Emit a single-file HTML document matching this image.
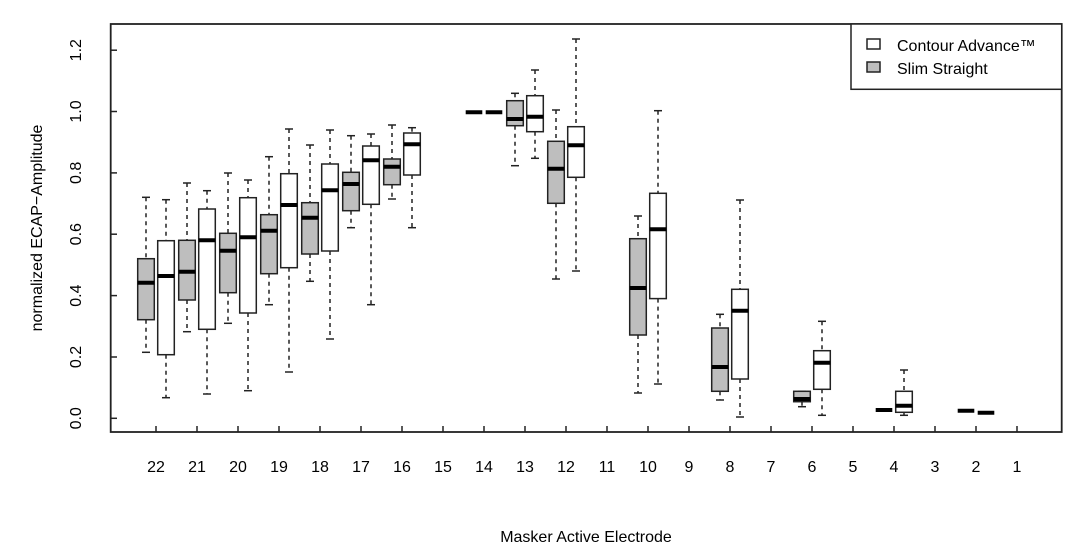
<!DOCTYPE html>
<html><head><meta charset="utf-8"><style>
body{margin:0;background:#fff}
svg text{font-family:"Liberation Sans",sans-serif;fill:#000}
</style></head><body>
<svg width="1086" height="543" viewBox="0 0 1086 543" xmlns="http://www.w3.org/2000/svg">
<g id="boxes" stroke="#222" stroke-width="1.5"></g>
<rect x="110.7" y="24" width="951" height="408" fill="none" stroke="#222" stroke-width="1.8"/>
<g stroke="#222" stroke-width="1.5">
<line x1="110.7" x2="117" y1="418.3" y2="418.3"/><line x1="110.7" x2="117" y1="357" y2="357"/>
<line x1="110.7" x2="117" y1="295.6" y2="295.6"/><line x1="110.7" x2="117" y1="234.2" y2="234.2"/>
<line x1="110.7" x2="117" y1="172.9" y2="172.9"/><line x1="110.7" x2="117" y1="111.5" y2="111.5"/>
<line x1="110.7" x2="117" y1="50.2" y2="50.2"/>
</g>
<g font-size="16" text-anchor="middle">
<text transform="translate(81,418.3) rotate(-90)">0.0</text>
<text transform="translate(81,357) rotate(-90)">0.2</text>
<text transform="translate(81,295.6) rotate(-90)">0.4</text>
<text transform="translate(81,234.2) rotate(-90)">0.6</text>
<text transform="translate(81,172.9) rotate(-90)">0.8</text>
<text transform="translate(81,111.5) rotate(-90)">1.0</text>
<text transform="translate(81,50.2) rotate(-90)">1.2</text>
<text transform="translate(42,228) rotate(-90)">normalized ECAP−Amplitude</text>
<text x="586" y="542">Masker Active Electrode</text>
</g>
<g id="xt" font-size="16" text-anchor="middle"></g>
<rect x="851" y="24" width="210.7" height="65.3" fill="#fff" stroke="#222" stroke-width="1.5"/>
<rect x="867" y="39" width="13" height="10" fill="#fff" stroke="#222" stroke-width="1.5"/>
<rect x="867" y="62" width="13" height="10" fill="#bebebe" stroke="#222" stroke-width="1.5"/>
<text x="897" y="51" font-size="16">Contour Advance™</text>
<text x="897" y="74" font-size="16">Slim Straight</text>
<script>
var g=document.getElementById('boxes'),xt=document.getElementById('xt'),ns="http://www.w3.org/2000/svg";
function el(t,a,p){var e=document.createElementNS(ns,t);for(var k in a)e.setAttribute(k,a[k]);(p||g).appendChild(e);return e;}
for(var i=0;i<22;i++){var x=156+41*i;el('line',{x1:x,x2:x,y1:432,y2:426});var t=el('text',{x:x,y:472},xt);t.textContent=22-i;}
var d=[
[0,1,197.3,258.7,282.7,319.7,352.3],[0,0,199.7,240.7,276,354.7,397.7],
[1,1,183,240.3,271.7,300,331.7],[1,0,190.7,209,240.3,329.3,394],
[2,1,173,233.3,250.7,292.7,323.3],[2,0,180,197.7,237.3,313,390.7],
[3,1,156.7,214.7,230.7,273.7,304.7],[3,0,129,173.7,205,267.7,372],
[4,1,145,202.7,217.7,254,281.3],[4,0,130,164,190.3,251,339],
[5,1,135.7,172.3,184,210.7,227.7],[5,0,134,146,160.3,204.3,304.7],
[6,1,125,159,166.7,184.7,199],[6,0,127.7,133,144.3,175,227.7],
[8,1,112.3,112.3,112.3,112.3,112.3],[8,0,112.3,112.3,112.3,112.3,112.3],
[9,1,93.3,100.7,119,125.7,165.7],[9,0,70,95.7,116.7,131.7,158.3],
[10,1,110,141.3,168.7,203.3,279],[10,0,39,126.7,145.3,177.3,271],
[12,1,216,238.7,288,335,393],[12,0,110.7,193.3,229.3,298.6,384],
[14,1,314.3,328,367,391.3,400],[14,0,200,289.3,310.7,379,417],
[16,1,391.3,391.3,399,401.7,406.7],[16,0,321.3,350.7,362.7,389.3,415.3],
[18,1,410,410,410,410,410],[18,0,370,391.3,405.7,412.3,415.3],
[20,1,410.7,410.7,410.7,410.7,410.7],[20,0,412.7,412.7,412.7,412.7,412.7]];
d.forEach(function(r){var c=156+41*r[0]+(r[1]?-10:10);
if(r[6]-r[2]>0.5){
el('line',{x1:c,x2:c,y1:r[2],y2:r[3],'stroke-dasharray':'4,4'});
el('line',{x1:c,x2:c,y1:r[5],y2:r[6],'stroke-dasharray':'4,4'});
el('line',{x1:c-4,x2:c+4,y1:r[2],y2:r[2]});el('line',{x1:c-4,x2:c+4,y1:r[6],y2:r[6]});
el('rect',{x:c-8.3,y:r[3],width:16.6,height:Math.max(r[5]-r[3],0.5),fill:r[1]?'#bebebe':'#fff'});}
el('line',{x1:c-8.3,x2:c+8.3,y1:r[4],y2:r[4],stroke:'#000','stroke-width':4});});
</script>
</svg>
</body></html>
